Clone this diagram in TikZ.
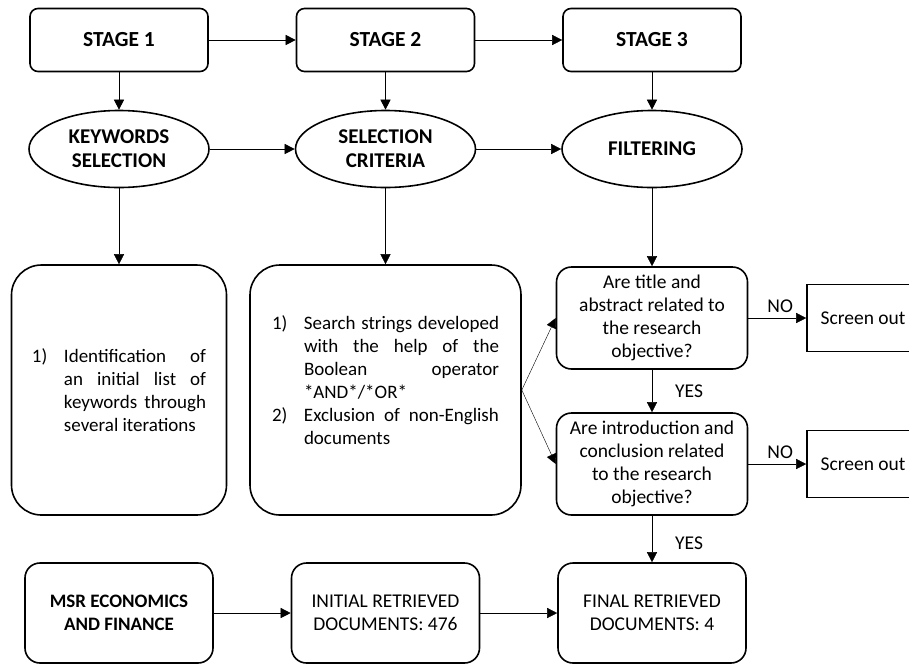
\documentclass[tikz,border=0pt]{standalone}
\usepackage{fontspec}
\setmainfont{Carlito}
\usetikzlibrary{shapes.geometric,arrows.meta}

\newcommand{\numitem}[2]{\hangindent=32pt\hangafter=1\noindent\makebox[32pt][l]{#1}#2\par}

\begin{document}
\begin{tikzpicture}[>={Triangle[length=10pt,width=10pt]}, every node/.style={font=\fontsize{19.5}{23}\selectfont}, node distance=266.5pt,
  stagebox/.style={draw, line width=1.6pt, rounded corners=8pt, minimum width=178pt, minimum height=63pt, font=\fontsize{21.5}{24}\selectfont\bfseries},
  phase/.style={draw, ellipse, line width=1.6pt, minimum width=180pt, minimum height=77pt, inner sep=0pt, align=center, font=\fontsize{21}{24}\selectfont\bfseries},
  listbox/.style={draw, line width=1.6pt, rounded corners=30pt, minimum height=250pt, align=justify, font=\fontsize{19}{23}\selectfont},
  query/.style={draw, line width=1.6pt, rounded corners=15pt, minimum width=191pt, minimum height=102pt, align=center, inner sep=0pt},
  outbox/.style={draw, line width=1.6pt, minimum width=112pt, minimum height=67pt},
  docbox/.style={draw, line width=1.6pt, rounded corners=15pt, minimum width=188pt, minimum height=100pt, align=center},
  lbl/.style={inner sep=1pt}]
  \useasboundingbox (-119pt,40pt) rectangle (790pt,-625pt);
  \clip (-119pt,40pt) rectangle (790pt,-625pt);
  % stages
  \node[stagebox] (s1) {STAGE 1};
  \node[stagebox] (s2) [right of=s1] {STAGE 2};
  \node[stagebox] (s3) [right of=s2] {STAGE 3};
  \node[phase] (k1) [below of=s1, node distance=109pt] {KEYWORDS\\SELECTION};
  \node[phase] (k2) [below of=s2, node distance=109pt] {SELECTION\\CRITERIA};
  \node[phase] (k3) [below of=s3, node distance=109pt] {FILTERING};
  % details
  \node[listbox, text width=174pt, inner xsep=20.5pt] (b1) [below of=k1, node distance=241pt]
    {\numitem{1)}{Identification of\linebreak an initial list of\linebreak keywords through\linebreak several iterations}};
  \node[listbox, text width=227pt, inner xsep=22pt] (b2) [below of=k2, node distance=241pt]
    {\numitem{1)}{Search strings developed\linebreak with the help of the\linebreak Boolean operator\linebreak *AND*/*OR*}\numitem{2)}{Exclusion of non-English\linebreak documents}\vskip 20pt\hrule height 0pt depth 0pt};
  \node[query] (q1) [below of=k3, node distance=169pt] {Are title and\\abstract related to\\the research\\objective?};
  \node[query] (q2) [below of=q1, node distance=146pt] {Are introduction and\\conclusion related\\to the research\\objective?};
  \node[outbox] (o1) [right of=q1, node distance=211pt] {Screen out};
  \node[outbox] (o2) [right of=q2, node distance=211pt] {Screen out};
  % documents
  \node[docbox, font=\fontsize{19}{23}\selectfont\bfseries] (m1) [below of=b1, node distance=223pt] {MSR ECONOMICS\\AND FINANCE};
  \node[docbox] (m2) [below of=b2, node distance=223pt] {INITIAL RETRIEVED\\DOCUMENTS: 476};
  \node[docbox] (m3) [below of=q2, node distance=149pt] {FINAL RETRIEVED\\DOCUMENTS: 4};
  \draw[->] (s1) -- (s2);
  \draw[->] (s2) -- (s3);
  \draw[->] (s1) -- (k1);
  \draw[->] (s2) -- (k2);
  \draw[->] (s3) -- (k3);
  \draw[->] (k1) -- (k2);
  \draw[->] (k2) -- (k3);
  \draw[->] (k1) -- (b1);
  \draw[->] (k2) -- (b2);
  \draw[->] (k3) -- (q1);
  \draw[->] (b2.east) -- (q1.west);
  \draw[->] (b2.east) -- (q2.west);
  \draw[->] (q1) -- node[lbl, above=4pt, pos=0.55] {NO} (o1);
  \draw[->] (q2) -- node[lbl, above=4pt, pos=0.55] {NO} (o2);
  \draw[->] (q1) -- node[lbl, right=22pt] {YES} (q2);
  \draw[->] (q2) -- node[lbl, right=22pt, pos=0.6] {YES} (m3);
  \draw[->] (m1) -- (m2);
  \draw[->] (m2) -- (m3);
\end{tikzpicture}
\end{document}
